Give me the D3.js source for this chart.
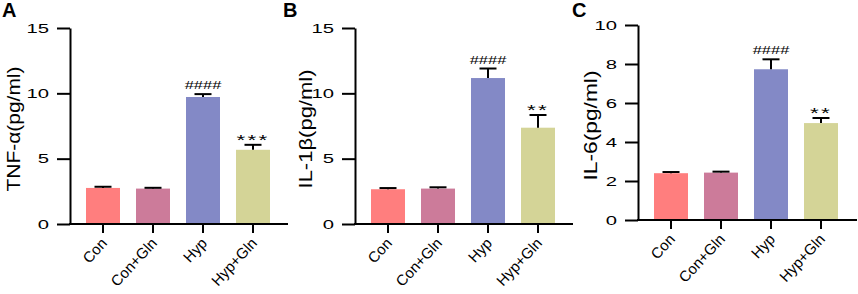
<!DOCTYPE html>
<html>
<head>
<meta charset="utf-8">
<script src="https://cdn.jsdelivr.net/npm/d3@7"></script>
<style>
  body { margin: 0; background: #fff; }
  svg { display: block; font-family: "Liberation Sans", Arial, sans-serif; }
</style>
</head>
<body>
<div id="chart"></div>
<script>
// groups and colours shared by all three panels
const groups = ["Con", "Con+Gln", "Hyp", "Hyp+Gln"];
const barColors = ["#ff7e7e", "#cc7b9a", "#8389c6", "#d4d497"];

// panel A: TNF-a
const tnfMean = [2.76, 2.71, 9.72, 5.68];
const tnfErr = [0.09, 0.06, 0.22, 0.38];
const tnfMarks = ["", "", "####", "***"];
const tnfTicks = [0, 5, 10, 15];

// panel B: IL-1b
const il1bMean = [2.66, 2.71, 11.17, 7.37];
const il1bErr = [0.09, 0.1, 0.73, 0.97];
const il1bMarks = ["", "", "####", "**"];
const il1bTicks = [0, 5, 10, 15];

// panel C: IL-6
const il6Mean = [2.40, 2.43, 7.73, 4.97];
const il6Err = [0.06, 0.05, 0.51, 0.26];
const il6Marks = ["", "", "####", "**"];
const il6Ticks = [0, 2, 4, 6, 8, 10];

const W = 858, H = 294;

const svg = d3.select("#chart").append("svg")
  .attr("width", W)
  .attr("height", H);

const panels = [
  { letter: "A", label: "TNF-α(pg/ml)", mean: tnfMean, err: tnfErr, marks: tnfMarks, ticks: tnfTicks,
    ox: 0, axisX: 70, axisEnd: 288, y0: 224, yTop: 28, labelX: 20, labelLen: 125, letterX: 2 },
  { letter: "B", label: "IL-1β(pg/ml)", mean: il1bMean, err: il1bErr, marks: il1bMarks, ticks: il1bTicks,
    ox: 285, axisX: 70, axisEnd: 288, y0: 224, yTop: 28, labelX: 27, labelLen: 119, letterX: -2 },
  { letter: "C", label: "IL-6(pg/ml)", mean: il6Mean, err: il6Err, marks: il6Marks, ticks: il6Ticks,
    ox: 570, axisX: 68, axisEnd: 287, y0: 220, yTop: 25, labelX: 27, labelLen: 110, letterX: 2 }
];

panels.forEach(p => {
  const g = svg.append("g").attr("transform", `translate(${p.ox},0)`);
  const data = groups.map((name, i) => ({ name, mean: p.mean[i], err: p.err[i], mark: p.marks[i], color: barColors[i] }));

  const x = d3.scaleBand()
    .domain(groups)
    .range([p.axisX + 8, p.axisX + 208])
    .paddingInner(0.32)
    .paddingOuter(0.16);

  const y = d3.scaleLinear()
    .domain([0, d3.max(p.ticks)])
    .range([p.y0, p.yTop]);

  // bars
  g.selectAll("rect.bar")
    .data(data)
    .enter()
    .append("rect")
    .attr("class", "bar")
    .attr("x", d => x(d.name))
    .attr("y", d => y(d.mean))
    .attr("width", x.bandwidth())
    .attr("height", d => y(0) - y(d.mean))
    .attr("fill", d => d.color);

  // error bars (upper only)
  const eb = g.selectAll("g.err")
    .data(data)
    .enter()
    .append("g")
    .attr("class", "err")
    .attr("stroke", "#000")
    .attr("stroke-width", 2);
  eb.append("line")
    .attr("x1", d => x(d.name) + x.bandwidth() / 2)
    .attr("x2", d => x(d.name) + x.bandwidth() / 2)
    .attr("y1", d => y(d.mean))
    .attr("y2", d => y(d.mean + d.err));
  eb.append("line")
    .attr("x1", d => x(d.name) + x.bandwidth() / 2 - 8.5)
    .attr("x2", d => x(d.name) + x.bandwidth() / 2 + 8.5)
    .attr("y1", d => y(d.mean + d.err))
    .attr("y2", d => y(d.mean + d.err));

  // significance marks
  g.selectAll("text.mark")
    .data(data.filter(d => d.mark))
    .enter()
    .append("text")
    .attr("class", "mark")
    .attr("text-anchor", "middle")
    .attr("fill", "#000")
    .attr("font-size", d => d.mark[0] === "#" ? 11 : 15)
    .attr("letter-spacing", d => d.mark[0] === "#" ? 0 : 1.5)
    .attr("transform", d => {
      const cx = x(d.name) + x.bandwidth() / 2;
      const cy = y(d.mean + d.err) + (d.mark[0] === "#" ? -5 : 0);
      return `translate(${cx},${cy}) scale(1.5,1)`;
    })
    .text(d => d.mark);

  // y axis
  const yAxis = g.append("g")
    .attr("transform", `translate(${p.axisX},0)`)
    .call(d3.axisLeft(y).tickValues(p.ticks).tickSize(13).tickSizeOuter(0).tickPadding(0));
  yAxis.select(".domain").attr("stroke", "#000").attr("stroke-width", 2);
  yAxis.selectAll(".tick line").attr("stroke", "#000").attr("stroke-width", 2);
  yAxis.selectAll(".tick text")
    .attr("x", null)
    .attr("font-size", 13.5)
    .attr("fill", "#000")
    .attr("font-family", "Liberation Sans, Arial, sans-serif")
    .attr("transform", "translate(-21,0) scale(1.5,1)");

  // x axis (ticks only, baseline drawn across full width)
  const xAxis = g.append("g")
    .attr("transform", `translate(0,${p.y0})`)
    .call(d3.axisBottom(x).tickSize(9).tickSizeOuter(0));
  xAxis.select(".domain").remove();
  xAxis.selectAll(".tick line").attr("stroke", "#000").attr("stroke-width", 2);
  xAxis.selectAll(".tick text")
    .attr("y", null)
    .attr("dy", null)
    .attr("font-size", 15)
    .attr("fill", "#000")
    .attr("font-family", "Liberation Sans, Arial, sans-serif")
    .attr("text-anchor", "end")
    .attr("transform", "translate(5,20) rotate(-47)");
  g.append("line")
    .attr("x1", p.axisX - 1)
    .attr("x2", p.axisEnd)
    .attr("y1", p.y0)
    .attr("y2", p.y0)
    .attr("stroke", "#000")
    .attr("stroke-width", 2);

  // y axis title
  g.append("text")
    .attr("transform", `translate(${p.labelX},${(p.y0 + p.yTop) / 2 + 3}) rotate(-90)`)
    .attr("text-anchor", "middle")
    .attr("font-size", 19)
    .attr("fill", "#000")
    .attr("textLength", p.labelLen)
    .attr("lengthAdjust", "spacingAndGlyphs")
    .text(p.label);

  // panel letter
  g.append("text")
    .attr("x", p.letterX)
    .attr("y", 17)
    .attr("font-size", 20)
    .attr("font-weight", "bold")
    .attr("fill", "#000")
    .text(p.letter);
});
</script>
</body>
</html>
